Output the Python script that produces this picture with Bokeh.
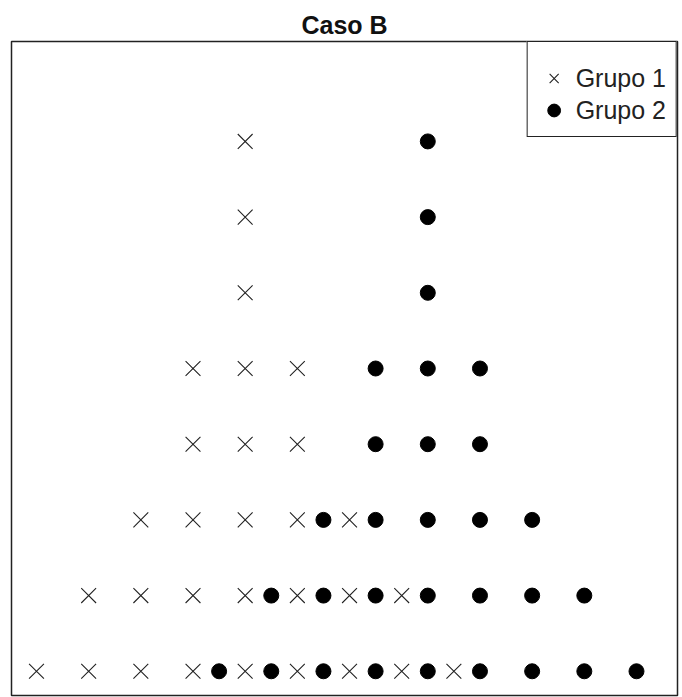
from bokeh.plotting import figure
from bokeh.models import Range1d, Legend, LegendItem, ColumnDataSource
from bokeh.embed import file_html
from bokeh.resources import INLINE

# Data: dot plot (stacked) of two groups
titulo = "Caso B"
grupo1_nombre = "Grupo 1"
grupo2_nombre = "Grupo 2"
grupo1_valores = [1, 2, 3, 4, 5, 6, 7, 8, 9]
grupo1_frecuencias = [1, 2, 3, 5, 8, 5, 3, 2, 1]
grupo2_valores = [4.5, 5.5, 6.5, 7.5, 8.5, 9.5, 10.5, 11.5, 12.5]
grupo2_frecuencias = [1, 2, 3, 5, 8, 5, 3, 2, 1]


def apilar(valores, frecuencias):
    xs, ys = [], []
    for v, f in zip(valores, frecuencias):
        for k in range(1, f + 1):
            xs.append(v)
            ys.append(k)
    return xs, ys


x1, y1 = apilar(grupo1_valores, grupo1_frecuencias)
x2, y2 = apilar(grupo2_valores, grupo2_frecuencias)
src1 = ColumnDataSource(dict(x=x1, y=y1))
src2 = ColumnDataSource(dict(x=x2, y=y2))

p = figure(width=682, height=697, output_backend="svg", toolbar_location=None,
           x_range=Range1d(0.521, 13.286), y_range=Range1d(0.68, 9.32),
           x_axis_location=None, y_axis_location=None,
           min_border_left=11, min_border_right=5, min_border_top=41,
           min_border_bottom=2)
p.xgrid.visible = False
p.ygrid.visible = False
p.outline_line_color = "#222222"
p.outline_line_width = 1.5
p.outline_line_alpha = 1.0
p.background_fill_color = "white"
p.border_fill_color = "white"

p.title.text = titulo
p.title.align = "center"
p.title.text_font = "Liberation Sans"
p.title.text_font_size = "25px"
p.title.text_font_style = "bold"
p.title.text_color = "#111111"
p.title.standoff = 6

r1 = p.scatter("x", "y", source=src1, marker="x", size=21,
               line_color="#222222", line_width=1.1)
r2 = p.scatter("x", "y", source=src2, marker="circle", size=15,
               fill_color="black", line_color="black")

legend = Legend(items=[LegendItem(label=grupo1_nombre, renderers=[r1]),
                       LegendItem(label=grupo2_nombre, renderers=[r2])],
                location="top_right", margin=0, padding=10, spacing=0,
                glyph_width=32, glyph_height=32, label_height=32,
                label_standoff=6,
                title=" ", title_text_font_size="1px", title_standoff=9,
                label_text_font="Liberation Sans", label_text_font_size="25px",
                label_text_color="#222222",
                border_line_color="#222222", border_line_width=1.2,
                border_line_alpha=1.0,
                background_fill_color="white", background_fill_alpha=1.0)
p.add_layout(legend)

open("out.html", "w").write(file_html(p, INLINE))
